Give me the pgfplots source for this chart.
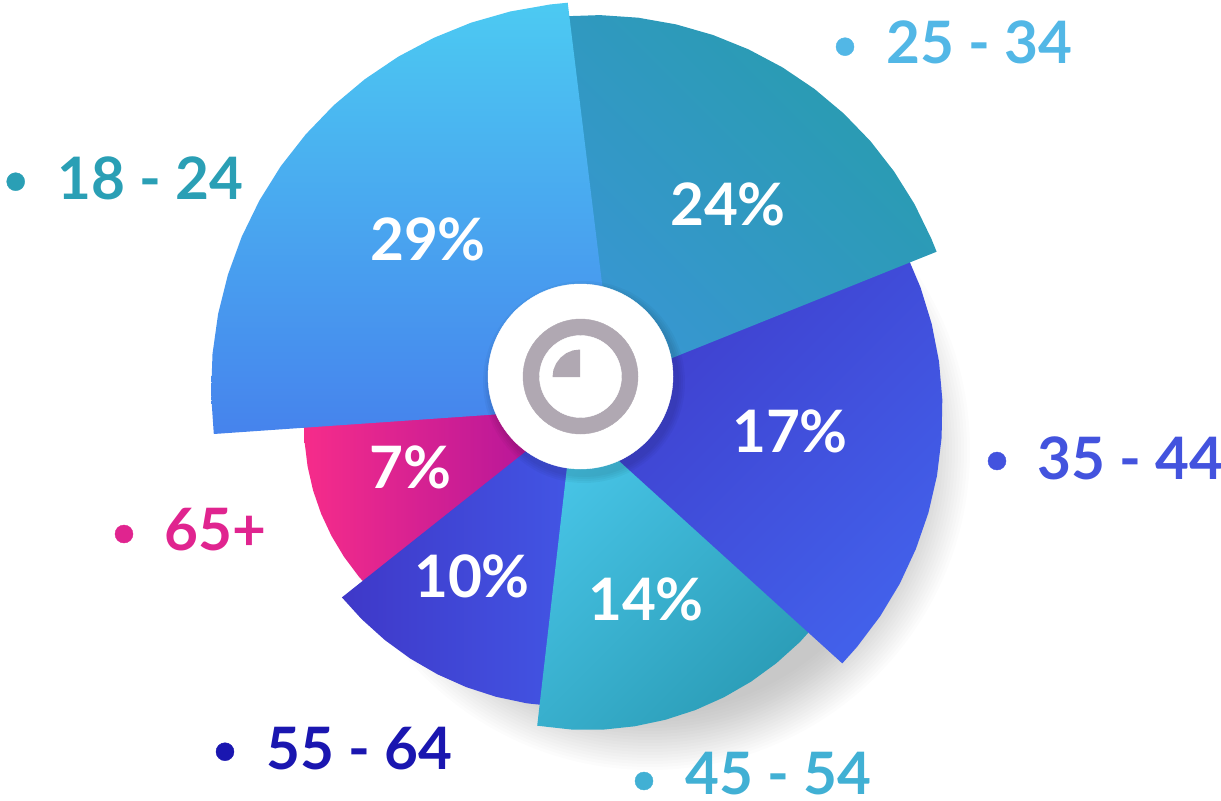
\documentclass[border=0pt]{standalone}
\usepackage{fontspec}
\setmainfont{Lato}
\usepackage{pgfplots}
\pgfplotsset{compat=1.18}
\definecolor{ringgray}{HTML}{B0A8B2}
\definecolor{pinkL}{HTML}{F62C8A}
\definecolor{pinkR}{HTML}{B5169A}
\definecolor{tenL}{HTML}{3F38C8}
\definecolor{tenR}{HTML}{4257E6}
\definecolor{ftA}{HTML}{47C4E6}
\definecolor{ftB}{HTML}{2A9BB5}
\definecolor{svA}{HTML}{3F3DCC}
\definecolor{svB}{HTML}{4260EA}
\definecolor{tfA}{HTML}{289CAE}
\definecolor{tfB}{HTML}{3896D2}
\definecolor{tnT}{HTML}{4CCAF2}
\definecolor{tnM}{HTML}{4BB2F0}
\definecolor{tnB}{HTML}{4683ED}
\definecolor{cA}{HTML}{2A9FB5}
\definecolor{cB}{HTML}{52B7E6}
\definecolor{cC}{HTML}{4353DE}
\definecolor{cD}{HTML}{41B0D4}
\definecolor{cE}{HTML}{1A16B0}
\definecolor{cF}{HTML}{E0248F}
\newcommand{\lab}{\fontsize{58.5bp}{60bp}\selectfont\bfseries}
\begin{document}
\begin{tikzpicture}
\path[use as bounding box] (0,0) rectangle (1221bp,801bp);
\begin{axis}[at={(0,0)},anchor=south west,scale only axis,width=1221bp,height=801bp,
  xmin=0,xmax=1221,ymin=0,ymax=801,y dir=reverse,hide axis,clip=false,clip mode=individual]
% soft shadow
\pgfplotsinvokeforeach{320,317,314,311,308,305,302,299,296,293,290,287,284,281,278,275,272,269,266,263}{
  \addplot[only marks,mark=*,mark size=#1bp,mark options={draw opacity=0,fill=black,fill opacity=0.011}] coordinates {(650,450)};
}
% 65+
\addplot[draw=none,shade,left color=pinkL,right color=pinkR] coordinates {
(540,410)(304.1,417.5)(304.6,442.1)(307.6,466.5)(313.1,490.5)(321.1,513.7)(331.5,536.0)(344.2,557.1)(359.0,576.8)(372.8,591.9)(540,460)} --cycle;
% 55-64
\addplot[draw=none,shade,left color=tenL,right color=tenR] coordinates {
(585,424)(560,424.3)(341.9,597.4)(361.6,619.1)(384.9,640.1)(410.3,658.6)(437.5,674.3)(466.2,687.1)(496.1,696.8)(526.8,703.3)(558.0,706.6)(573.7,707)} --cycle;
% 45-54
\addplot[draw=none,shade,top color=ftA,bottom color=ftB,shading angle=45] coordinates {
(573,415)(537.2,725.7)(572.0,729.6)(603.4,729.6)(634.6,726.3)(665.3,719.8)(695.2,710.1)(723.9,697.3)(751.1,681.6)(776.5,663.1)(799.8,642.1)(820.8,618.8)(830.4,606.3)} --cycle;
% 35-44
\addplot[draw=none,shade,top color=svA,bottom color=svB,shading angle=45] coordinates {
(580,425.4)(620,370)(905.6,252.2)(920.5,287.4)(931.7,323.9)(939.0,361.4)(942.3,399.5)(941.6,437.7)(937.0,475.6)(928.4,512.8)(915.9,548.9)(899.8,583.6)(880.1,616.3)(857.1,646.8)(842.3,663.4)} --cycle;
% 25-34
\addplot[draw=none,shade,top color=tfA,bottom color=tfB,shading angle=-45] coordinates {
(600,387)(561.5,16.4)(599.9,15.1)(638.2,17.7)(676.1,24.4)(713.0,35.0)(748.6,49.4)(782.5,67.4)(814.4,88.9)(843.8,113.6)(870.5,141.2)(894.1,171.5)(914.5,204.1)(931.3,238.6)(936.6,251.7)} --cycle;
% 18-24
\addplot[draw=none,shade,top color=tnT,middle color=tnM,bottom color=tnB] coordinates {
(617,406)(213.8,434.0)(211.1,394.3)(212.5,354.0)(218.1,314.0)(227.9,274.7)(241.7,236.8)(259.4,200.5)(280.8,166.2)(305.7,134.4)(333.7,105.3)(364.7,79.3)(398.2,56.7)(433.9,37.8)(471.3,22.6)(510.2,11.5)(550.0,4.5)(567.7,2.7)} --cycle;
% centre disc, its shadow and the icon
\pgfplotsinvokeforeach{101,99,97,95}{
  \addplot[only marks,mark=*,mark size=#1bp,mark options={draw opacity=0,fill=black,fill opacity=0.03}] coordinates {(584,382)};
}
\addplot[only marks,mark=*,mark size=92.5bp,mark options={draw=white,fill=white}] coordinates {(580.5,376.5)};
\addplot[only marks,mark=*,mark size=57.5bp,mark options={draw=ringgray,fill=ringgray}] coordinates {(580.5,376.5)};
\addplot[only marks,mark=*,mark size=41bp,mark options={draw=white,fill=white}] coordinates {(580.5,376.5)};
\addplot[draw=none,fill=ringgray] coordinates {(580,377)(552.5,377)(553.4,369.9)(556.2,363.3)(560.6,357.6)(566.2,353.2)(572.9,350.4)(580,349.5)} --cycle;
% legend bullets
\addplot[only marks,mark=*,mark size=9bp,mark options={draw=cA,fill=cA}] coordinates {(15.7,181.7)};
\addplot[only marks,mark=*,mark size=9bp,mark options={draw=cB,fill=cB}] coordinates {(845,46.7)};
\addplot[only marks,mark=*,mark size=9bp,mark options={draw=cC,fill=cC}] coordinates {(997,461)};
\addplot[only marks,mark=*,mark size=9bp,mark options={draw=cD,fill=cD}] coordinates {(644,781)};
\addplot[only marks,mark=*,mark size=9bp,mark options={draw=cE,fill=cE}] coordinates {(225,751.7)};
\addplot[only marks,mark=*,mark size=9bp,mark options={draw=cF,fill=cF}] coordinates {(124,534)};
% legend labels
\node[anchor=base west,inner sep=0pt,text=cA] at (axis cs:57.5,199) {\lab 18 - 24};
\node[anchor=base west,inner sep=0pt,text=cB] at (axis cs:886,64) {\lab 25 - 34};
\node[anchor=base west,inner sep=0pt,text=cC] at (axis cs:1037,479) {\lab 35 - 44};
\node[anchor=base west,inner sep=0pt,text=cD] at (axis cs:685.5,794) {\lab 45 - 54};
\node[anchor=base west,inner sep=0pt,text=cE] at (axis cs:266,769.5) {\lab 55 - 64};
\node[anchor=base west,inner sep=0pt,text=cF] at (axis cs:164,550) {\lab 65+};
% percentages
\node[anchor=base,inner sep=0pt,text=white] at (axis cs:428,260) {\lab 29\%};
\node[anchor=base,inner sep=0pt,text=white] at (axis cs:728,225) {\lab 24\%};
\node[anchor=base,inner sep=0pt,text=white] at (axis cs:790,452.3) {\lab 17\%};
\node[anchor=base,inner sep=0pt,text=white] at (axis cs:646,620) {\lab 14\%};
\node[anchor=base,inner sep=0pt,text=white] at (axis cs:472,597) {\lab 10\%};
\node[anchor=base,inner sep=0pt,text=white] at (axis cs:410,488) {\lab 7\%};
\end{axis}
\end{tikzpicture}
\end{document}
